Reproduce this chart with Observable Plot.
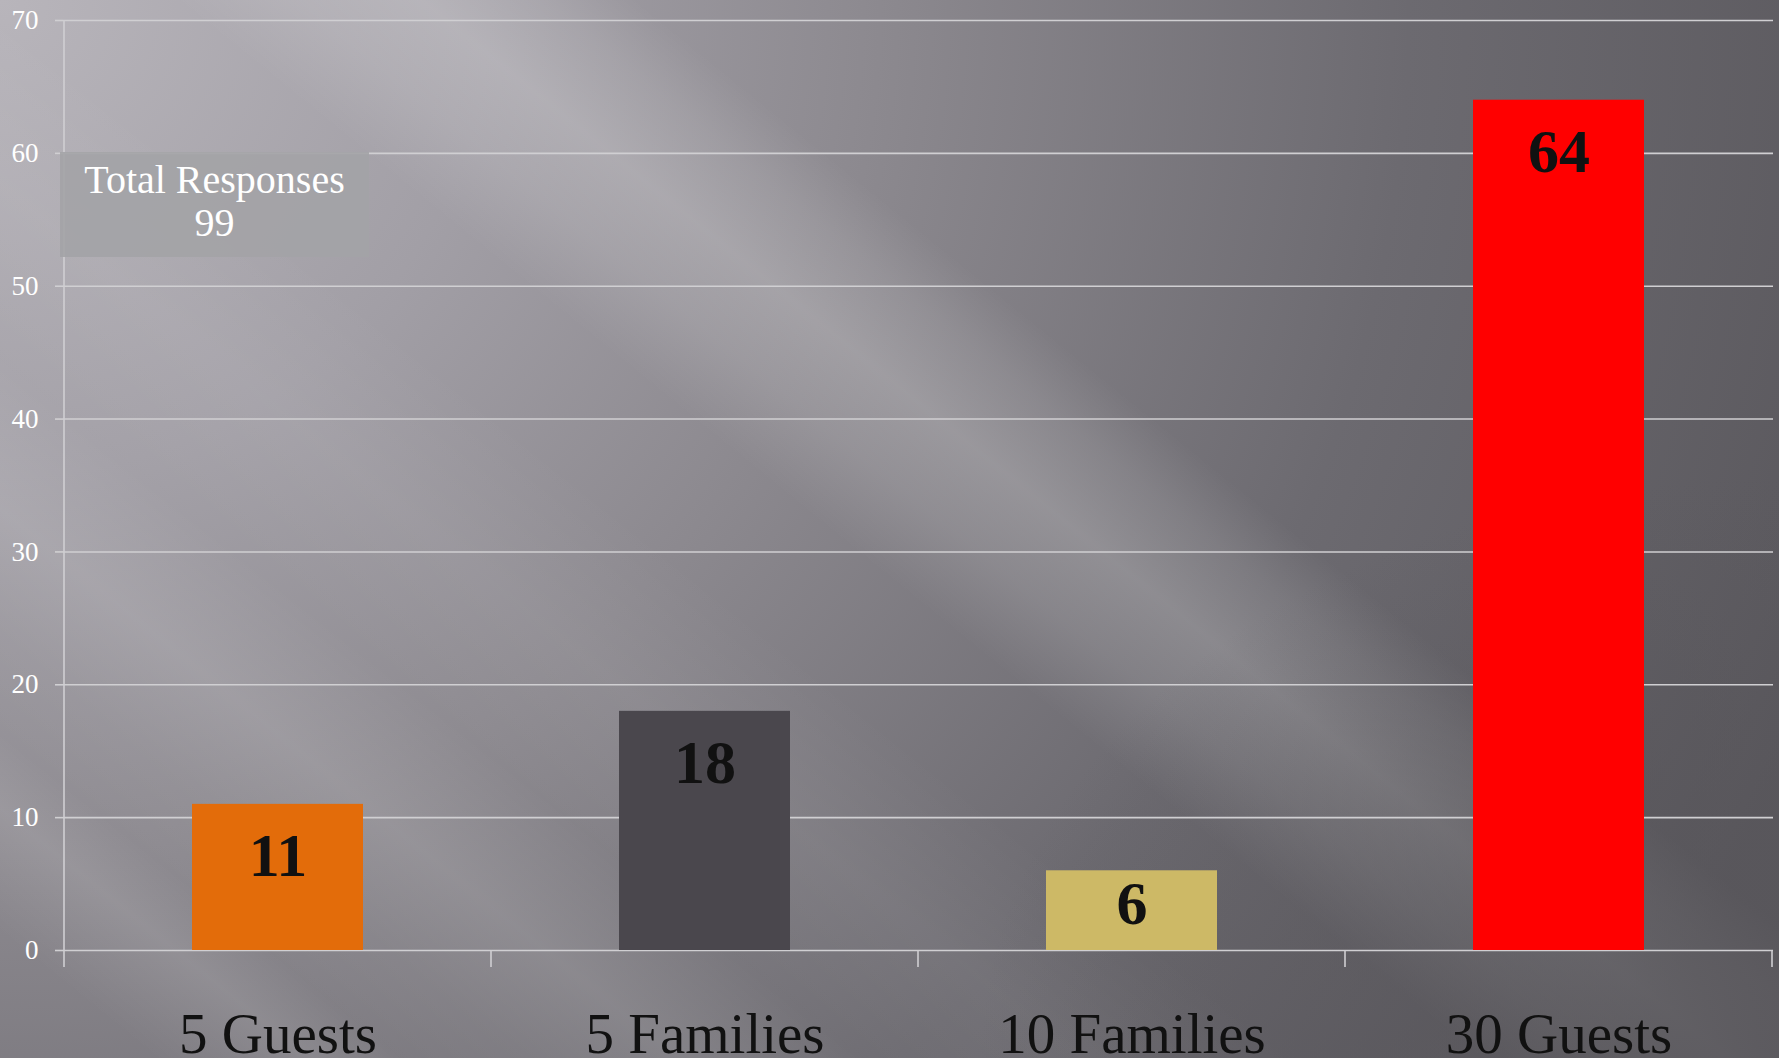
<!DOCTYPE html>
<html>
<head>
<meta charset="utf-8">
<script src="https://cdn.jsdelivr.net/npm/d3@7"></script>
<script src="https://cdn.jsdelivr.net/npm/@observablehq/plot@0.6"></script>
<style>
  html, body { margin: 0; padding: 0; background: #5a585d; }
  #wrap {
    position: relative; width: 1779px; height: 1058px; overflow: hidden;
    font-family: "Liberation Serif", "DejaVu Serif", serif;
    background:
      radial-gradient(ellipse 45% 55% at 100% 100%, rgba(88,86,91,0.85) 0%, rgba(88,86,91,0.5) 45%, rgba(88,86,91,0) 100%),
      linear-gradient(39deg, rgba(255,255,255,0) 48%, rgba(255,255,255,0.12) 52%, rgba(255,255,255,0.20) 56%, rgba(255,255,255,0.10) 60%, rgba(255,255,255,0) 63%),
      linear-gradient(39deg, rgba(255,255,255,0) 5%, rgba(255,255,255,0.11) 10%, rgba(255,255,255,0.02) 13%, rgba(255,255,255,0.05) 17%, rgba(255,255,255,0.12) 22%, rgba(255,255,255,0.02) 28%, rgba(255,255,255,0.06) 35%, rgba(255,255,255,0) 42%),
      radial-gradient(ellipse 110% 180% at 0% 0%, #b8b5bb 0%, #a29fa6 25%, #8c898f 45%, #6c6a70 72%, #59575c 100%);
  }
  #wrap svg { position: absolute; left: 0; top: 0; }
  #total {
    position: absolute; left: 60px; top: 152px; width: 309px; height: 105px;
    background: rgba(163,163,166,0.9); color: #ffffff; text-align: center;
    font-size: 40px; line-height: 43px; padding-top: 6px; box-sizing: border-box;
  }
</style>
</head>
<body>
<div id="wrap"></div>
<script>
const categories = ["5 Guests", "5 Families", "10 Families", "30 Guests"];
const values = [11, 18, 6, 64];
const colors = ["#e36c0a", "#4a474d", "#cdb966", "#ff0000"];
const yTicks = [0, 10, 20, 30, 40, 50, 60, 70];
const totalLabel = "Total Responses";

const data = categories.map((c, i) => ({cat: c, value: values[i], color: colors[i]}));
const lineColor = "#d0cfd2";

function boundaryTicks(index, scales, channels, dims) {
  const x = scales.x, y = scales.y;
  const step = x.step(), bw = x.bandwidth();
  const pos = categories.map(c => x(c) - (step - bw) / 2);
  pos.push(x(categories[categories.length - 1]) + bw + (step - bw) / 2);
  const g = d3.create("svg:g").attr("stroke", lineColor).attr("stroke-width", 1.6);
  const y0 = y(0);
  pos.forEach((px, i) => {
    g.append("line").attr("x1", px).attr("x2", px)
      .attr("y1", i === 0 ? y(yTicks[yTicks.length - 1]) : y0).attr("y2", y0 + 17);
  });
  return g.node();
}

// label sits near the top of each bar (inside end), closer to the middle for short bars
const labelY = d => d.value - Math.min(3.9, d.value * 0.42);

const chart = Plot.plot({
  width: 1779,
  height: 1058,
  marginLeft: 63,
  marginRight: 6,
  marginTop: 20,
  marginBottom: 108,
  style: {background: "transparent", fontFamily: "'Liberation Serif', 'DejaVu Serif', serif", overflow: "visible"},
  x: {domain: categories, paddingInner: 0.6, paddingOuter: 0.3, axis: null, label: null},
  y: {domain: [0, 70], axis: null, label: null},
  color: {type: "identity"},
  marks: [
    Plot.gridY(yTicks, {stroke: lineColor, strokeOpacity: 1, strokeWidth: 1.6}),
    Plot.axisY(yTicks, {tickSize: 8, tickPadding: 17, fontSize: 27, fill: "#ffffff", stroke: lineColor, strokeWidth: 1.6, tickFormat: d => String(d), label: null}),
    Plot.barY(data, {x: "cat", y: "value", fill: "color"}),
    boundaryTicks,
    Plot.text(data, {x: "cat", y: labelY, text: d => String(d.value), fontSize: 62, fontWeight: "bold", fill: "#111111"}),
    Plot.axisX({tickSize: 0, tickPadding: 62, fontSize: 57, fill: "#111111", label: null})
  ]
});

const wrap = document.getElementById("wrap");
wrap.appendChild(chart);
const box = document.createElement("div");
box.id = "total";
box.innerHTML = totalLabel + "<br>" + d3.sum(values);
wrap.appendChild(box);
</script>
</body>
</html>
